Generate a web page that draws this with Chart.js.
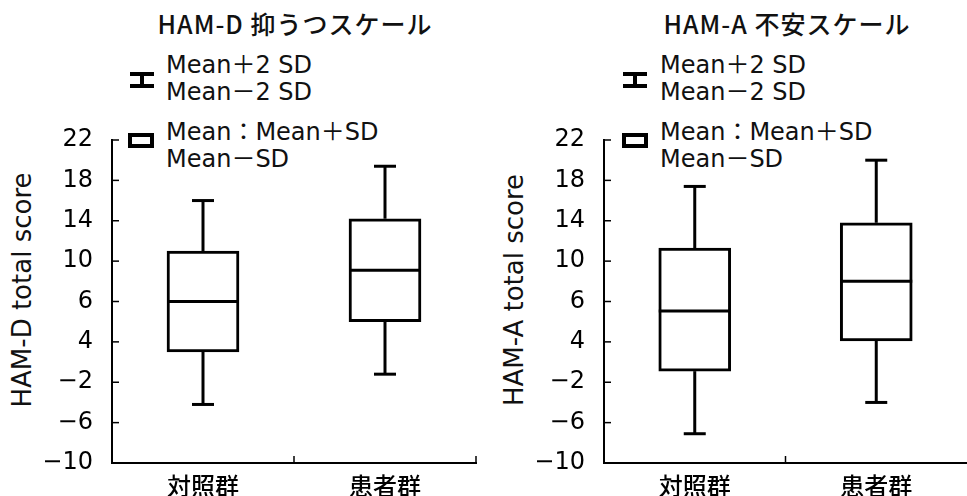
<!DOCTYPE html>
<html>
<head>
<meta charset="utf-8">
<script src="https://cdn.jsdelivr.net/npm/chart.js@4.4.0/dist/chart.umd.min.js"></script>
<style>
  body { margin: 0; background: #fff; width: 967px; height: 496px; position: relative; overflow: hidden; color: #111; }
  .panel { position: absolute; top: 0; height: 496px; }
  .title { position: absolute; top: 9px; font: 500 25px "Noto Sans CJK JP", sans-serif; letter-spacing: 1px; line-height: 28px; white-space: nowrap; transform: translateX(-50%); }
  .ytitle { position: absolute; font: 26px "DejaVu Sans", sans-serif; line-height: 26px; white-space: nowrap; transform: translate(-50%, -50%) rotate(-90deg); }
  .leg { position: absolute; font: 24px "DejaVu Sans", "Noto Sans CJK JP", sans-serif; line-height: 27px; white-space: nowrap; }
  .ibar { position: absolute; width: 24px; height: 16px; }
  .ibar::before, .ibar::after { content: ""; position: absolute; left: 0; width: 24px; height: 4px; background: #000; }
  .ibar::before { top: 0; }
  .ibar::after { bottom: 0; }
  .ibar span { position: absolute; left: 10px; top: 0; width: 4px; height: 16px; background: #000; }
  .bsym { position: absolute; width: 18px; height: 7px; border: 4px solid #000; }
</style>
</head>
<body>

<div class="title" style="left:295px">HAM-D 抑うつスケール</div>
<div class="title" style="left:787px">HAM-A 不安スケール</div>

<div class="ytitle" style="left:22px;top:290px">HAM-D total score</div>
<div class="ytitle" style="left:514px;top:290px">HAM-A total score</div>

<!-- legend, left panel -->
<div class="ibar" style="left:130px;top:72px"><span></span></div>
<div class="leg" style="left:166px;top:52px">Mean＋2 SD<br>Mean－2 SD</div>
<div class="bsym" style="left:128px;top:133px"></div>
<div class="leg" style="left:166px;top:119px">Mean：Mean＋SD<br>Mean－SD</div>

<!-- legend, right panel -->
<div class="ibar" style="left:623px;top:72px"><span></span></div>
<div class="leg" style="left:660px;top:52px">Mean＋2 SD<br>Mean－2 SD</div>
<div class="bsym" style="left:622px;top:133px"></div>
<div class="leg" style="left:660px;top:119px">Mean：Mean＋SD<br>Mean－SD</div>

<div class="panel" style="left:0;width:483px"><canvas id="hamd" width="483" height="496"></canvas></div>
<div class="panel" style="left:492px;width:475px"><canvas id="hama" width="475" height="496"></canvas></div>

<script>
// ---- data ----
const categories  = ['対照群', '患者群'];
const yTickLabels = ['−10', '−6', '−2', '4', '6', '10', '14', '18', '22'];

// HAM-D
const hamdMean      = [6, 9.1];
const hamdPlusSD    = [11, 14.2];
const hamdMinusSD   = [1, 4];
const hamdPlus2SD   = [16, 19.4];
const hamdMinus2SD  = [-4.2, -1.2];

// HAM-A
const hamaMean      = [5.05, 8];
const hamaPlusSD    = [11.3, 13.8];
const hamaMinusSD   = [-0.9, 2.1];
const hamaPlus2SD   = [17.4, 20];
const hamaMinus2SD  = [-7.1, -4];

// whiskers, median line and small inside ticks
const boxExtras = {
  id: 'boxExtras',
  afterDatasetsDraw(chart, args, opts) {
    const { ctx, chartArea } = chart;
    const xs = chart.scales.x, ys = chart.scales.y;
    const meta = chart.getDatasetMeta(0);
    const line = (x1, y1, x2, y2) => { ctx.beginPath(); ctx.moveTo(x1, y1); ctx.lineTo(x2, y2); ctx.stroke(); };

    ctx.save();
    ctx.strokeStyle = '#000';
    ctx.lineWidth = 3;
    meta.data.forEach((bar, i) => {
      const cx = bar.x, half = bar.width / 2;
      const pm   = ys.getPixelForValue(opts.mean[i]);
      const pHi  = ys.getPixelForValue(opts.hi[i]);
      const pLo  = ys.getPixelForValue(opts.lo[i]);
      const pHi2 = ys.getPixelForValue(opts.hi2[i]);
      const pLo2 = ys.getPixelForValue(opts.lo2[i]);
      line(cx - half, pm, cx + half, pm);
      line(cx, pHi, cx, pHi2);
      line(cx - 11, pHi2, cx + 11, pHi2);
      line(cx, pLo, cx, pLo2);
      line(cx - 11, pLo2, cx + 11, pLo2);
    });

    ctx.lineWidth = 1.5;
    ys.ticks.forEach(t => {
      const py = ys.getPixelForValue(t.value);
      line(chartArea.left, py, chartArea.left + 7, py);
    });
    opts.xMarks.forEach(v => {
      const px = xs.getPixelForValue(v);
      line(px, chartArea.bottom, px, chartArea.bottom - 7);
    });
    ctx.restore();
  }
};

function makePanel(id, mean, hi, lo, hi2, lo2, padRight, xMarks) {
  return new Chart(document.getElementById(id), {
    type: 'bar',
    data: {
      labels: categories,
      datasets: [{
        data: categories.map((_, i) => [lo[i], hi[i]]),
        backgroundColor: '#fff',
        borderColor: '#000',
        borderWidth: 3,
        borderSkipped: false,
        barThickness: 72
      }]
    },
    options: {
      responsive: false,
      animation: false,
      layout: { padding: { top: 140, right: padRight, bottom: 0, left: 0 } },
      plugins: {
        legend: { display: false },
        tooltip: { enabled: false },
        boxExtras: { mean, hi, lo, hi2, lo2, xMarks }
      },
      scales: {
        x: {
          grid: { display: false },
          border: { display: true, color: '#000', width: 2 },
          ticks: { color: '#000', padding: 0, font: { family: 'Noto Sans CJK JP', size: 24, weight: '500' } },
          afterFit: s => { s.height = 33; }
        },
        y: {
          min: -10,
          max: 22,
          grid: { display: false },
          border: { display: true, color: '#000', width: 2 },
          ticks: {
            stepSize: 4,
            color: '#000',
            padding: 11,
            font: { family: 'DejaVu Sans', size: 24 },
            callback: (v, i) => yTickLabels[i]
          },
          afterFit: s => { s.width = 112; }
        }
      }
    },
    plugins: [boxExtras]
  });
}

makePanel('hamd', hamdMean, hamdPlusSD, hamdMinusSD, hamdPlus2SD, hamdMinus2SD, 7, [0.5, 1.5]);
makePanel('hama', hamaMean, hamaPlusSD, hamaMinusSD, hamaPlus2SD, hamaMinus2SD, 0, [0.5]);
</script>
</body>
</html>
